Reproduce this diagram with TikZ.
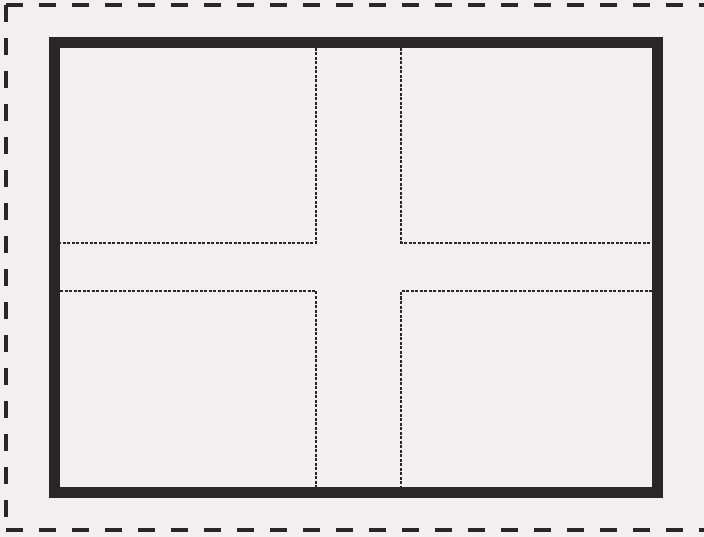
\documentclass[tikz,border=0pt]{standalone}
\usepackage{tikz}
\usepackage{xcolor}

\definecolor{paper}{RGB}{243,239,241}
\definecolor{ink}{RGB}{42,37,39}

\begin{document}
\begin{tikzpicture}[
    x=1pt, y=-1pt,
    frame/.style={draw=ink, line width=4pt, dash pattern=on 17pt off 16pt},
    wall/.style={draw=ink, line width=11pt, line join=miter},
    seam/.style={draw=ink, line width=1.4pt, dash pattern=on 3pt off 1.5pt}
]
\useasboundingbox[fill=paper] (0,0) rectangle (704,537);
\clip (0,0) rectangle (704,537);

% outer dashed frame (runs off the right edge)
\draw[frame] (6,5) -- (720,5);
\draw[frame] (6,530) -- (720,530);
\draw[frame] (6,5) -- (6,530);

% inner frame
\draw[wall] (54,42.5) rectangle (657.5,492.5);

% corners of the cross
\coordinate (tl) at (316,243);
\coordinate (tr) at (401,243);
\coordinate (bl) at (316,291);
\coordinate (br) at (401,291);

\draw[seam] (316,48) -- (tl) -- (60,243);
\draw[seam] (401,48) -- (tr) -- (652,243);
\draw[seam] (60,291) -- (bl) -- (316,487);
\draw[seam] (652,291) -- (br) -- (401,487);
\end{tikzpicture}
\end{document}
